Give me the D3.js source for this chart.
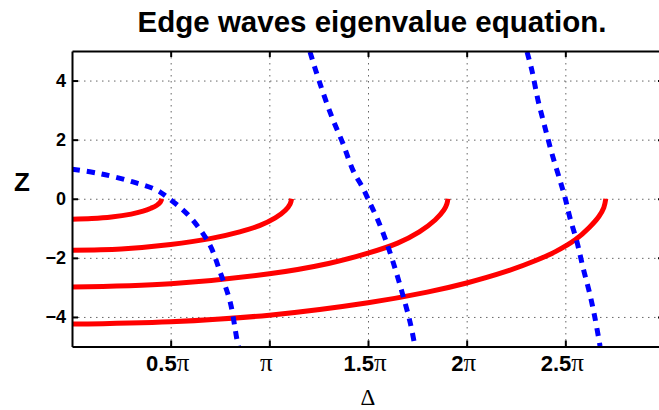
<!DOCTYPE html>
<html>
<head>
<meta charset="utf-8">
<script src="https://d3js.org/d3.v7.min.js"></script>

<script>

    // x values are in units of pi, y values are Z
    var xTicks      = [ 0.5, 1, 1.5, 2, 2.5 ];
    var xTickLabels = [ '0.5', '', '1.5', '2', '2.5' ];   // pi is appended
    var yTicks      = [ -4, -2, 0, 2, 4 ];

    // red solid curves
    var red1 = [ [0,-0.69],[0.1,-0.67],[0.2,-0.62],[0.3,-0.52],[0.36,-0.42],[0.4,-0.32],[0.43,-0.22],[0.447,-0.12],[0.455,0] ];
    var red2 = [ [0,-1.74],[0.25,-1.70],[0.5,-1.55],[0.7,-1.35],[0.85,-1.12],[0.95,-0.91],[1.03,-0.65],[1.08,-0.40],[1.105,-0.18],[1.113,0] ];
    var red3 = [ [0,-2.99],[0.5,-2.88],[1.0,-2.54],[1.3,-2.19],[1.5,-1.84],[1.65,-1.50],[1.76,-1.12],[1.84,-0.72],[1.885,-0.38],[1.9,-0.17],[1.905,0] ];
    var red4 = [ [0,-4.24],[0.5,-4.16],[1.0,-3.94],[1.5,-3.52],[1.8,-3.16],[2.0,-2.85],[2.2,-2.46],[2.35,-2.09],[2.45,-1.79],[2.55,-1.39],[2.62,-0.98],[2.67,-0.60],[2.695,-0.30],[2.705,0] ];

    // blue dashed curves
    var blue1 = [ [0,1.0],[0.142,0.85],[0.309,0.57],[0.431,0.29],[0.481,0.06],[0.547,-0.29],[0.613,-0.73],[0.699,-1.57],[0.750,-2.47],[0.801,-3.48],[0.836,-4.77],[0.844,-5.0] ];
    var blue2 = [ [1.206,4.97],[1.257,3.89],[1.318,2.75],[1.373,1.87],[1.424,0.96],[1.475,0.35],[1.510,-0.15],[1.546,-0.66],[1.586,-1.33],[1.627,-2.14],[1.672,-3.15],[1.713,-4.17],[1.738,-4.99] ];
    var blue3 = [ [2.306,4.97],[2.331,4.33],[2.362,3.32],[2.397,2.41],[2.432,1.53],[2.473,0.62],[2.498,0.05],[2.524,-0.66],[2.559,-1.46],[2.590,-2.34],[2.625,-3.25],[2.650,-4.03],[2.676,-4.99] ];


    function render()
    {
        var dims   = { width: 659, height: 410 };
        var margin = { top: 51, left: 72, right: 664, bottom: 346.5 };

        var svg = d3.select('div#chartHere')
            .append('svg')
            .attr('width',  dims.width)
            .attr('height', dims.height);

        var xScale = d3.scaleLinear()
            .domain([ 0, 3 ])
            .range([ margin.left, margin.right ]);

        var yScale = d3.scaleLinear()
            .domain([ -5, 5 ])
            .range([ margin.bottom, margin.top ]);

        svg.append('clipPath').attr('id', 'plotClip')
            .append('rect')
            .attr('x', margin.left).attr('y', margin.top)
            .attr('width', margin.right - margin.left)
            .attr('height', margin.bottom - margin.top);

        // dotted grid
        svg.append('g')
            .attr('class', 'grid')
            .attr('transform', 'translate(0,' + margin.bottom + ')')
            .call(d3.axisBottom(xScale).tickValues(xTicks).tickSize(-(margin.bottom - margin.top)).tickFormat(''));

        svg.append('g')
            .attr('class', 'grid')
            .attr('transform', 'translate(' + margin.left + ',0)')
            .call(d3.axisLeft(yScale).tickValues(yTicks).tickSize(-(margin.right - margin.left)).tickFormat(''));

        var line = d3.line()
            .x(function (d) { return xScale(d[0]); })
            .y(function (d) { return yScale(d[1]); })
            .curve(d3.curveCatmullRom.alpha(0.5));

        var plot = svg.append('g').attr('clip-path', 'url(#plotClip)');

        [ red1, red2, red3, red4 ].forEach(function (c) {
            plot.append('path')
                .attr('d', line(c))
                .attr('fill', 'none')
                .attr('stroke', '#ff0000')
                .attr('stroke-width', 5);
        });

        [ blue1, blue2, blue3 ].forEach(function (c) {
            plot.append('path')
                .attr('d', line(c))
                .attr('fill', 'none')
                .attr('stroke', '#0000ff')
                .attr('stroke-width', 5)
                .attr('stroke-dasharray', '8,7');
        });

        // axes, ticks pointing inwards
        var xAxis = svg.append('g')
            .attr('class', 'axis xaxis')
            .attr('transform', 'translate(0,' + margin.bottom + ')')
            .call(d3.axisBottom(xScale).tickValues(xTicks).tickSizeInner(-6).tickSizeOuter(0).tickPadding(9)
                  .tickFormat(function (d, i) { return xTickLabels[i]; }));

        xAxis.selectAll('text')
            .attr('dx', -3.5)
            .append('tspan')
            .attr('class', 'pi')
            .text('\u03c0');

        svg.append('g')
            .attr('class', 'axis')
            .attr('transform', 'translate(0,' + margin.top + ')')
            .call(d3.axisTop(xScale).tickValues(xTicks).tickSizeInner(-6).tickSizeOuter(0).tickFormat(''));

        svg.append('g')
            .attr('class', 'axis yaxis')
            .attr('transform', 'translate(' + margin.left + ',0)')
            .call(d3.axisLeft(yScale).tickValues(yTicks).tickSizeInner(-6).tickSizeOuter(0).tickPadding(6)
                  .tickFormat(function (d) { return d < 0 ? '\u2212' + (-d) : d; }));

        svg.append('g')
            .attr('class', 'axis')
            .attr('transform', 'translate(' + margin.right + ',0)')
            .call(d3.axisRight(yScale).tickValues(yTicks).tickSizeInner(-6).tickSizeOuter(0).tickFormat(''));

        svg.append('text')
            .attr('class', 'title')
            .attr('x', 372)
            .attr('y', 32)
            .attr('text-anchor', 'middle')
            .text('Edge waves eigenvalue equation.');

        svg.append('text')
            .attr('class', 'zlabel')
            .attr('x', 22)
            .attr('y', 191)
            .attr('text-anchor', 'middle')
            .text('Z');

        svg.append('text')
            .attr('class', 'dlabel')
            .attr('x', 368)
            .attr('y', 405)
            .attr('text-anchor', 'middle')
            .text('\u0394');
    }

</script>

<style>
    body { margin: 0; background: #fff; }
    svg { display: block; }
    text { font-family: 'Liberation Sans', Arial, sans-serif; fill: #000; }
    .grid .domain { stroke: none; }
    .grid line { stroke: #666; stroke-width: 1; stroke-dasharray: 1.5,4.5; }
    .axis .domain { stroke: #000; stroke-width: 2; }
    .axis line { stroke: #000; stroke-width: 2; }
    .xaxis text { font-size: 22px; font-weight: bold; }
    .xaxis text .pi { font-family: 'Liberation Serif', serif; font-weight: normal; font-size: 25px; }
    .yaxis text { font-size: 18px; font-weight: bold; }
    .title { font-size: 29.5px; font-weight: bold; }
    .zlabel { font-size: 26px; font-weight: bold; }
    .dlabel { font-family: 'Liberation Serif', serif; font-size: 23px; }
</style>
</head>

<body onload="render()">
<div id="chartHere"></div>
</body>
</html>
